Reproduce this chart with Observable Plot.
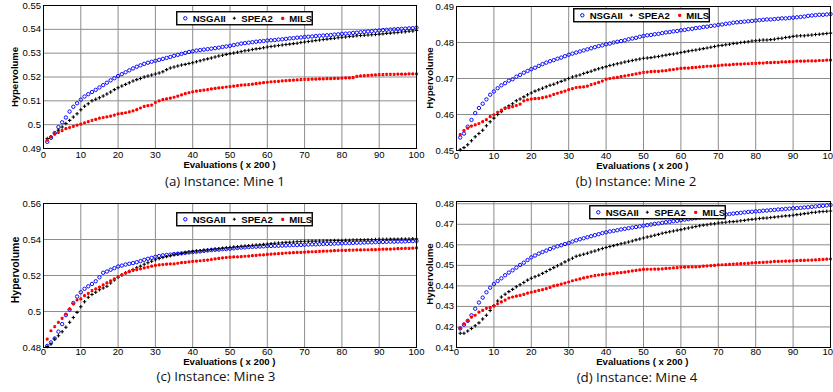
<!DOCTYPE html>
<html>
<head>
<meta charset="utf-8">
<script src="https://cdn.jsdelivr.net/npm/d3@7"></script>
<script src="https://cdn.jsdelivr.net/npm/@observablehq/plot@0.6"></script>
<style>
  html, body { margin: 0; padding: 0; background: #fff; }
  #page { position: relative; width: 833px; height: 392px; background: #fff; overflow: hidden; }
  .panel { position: absolute; overflow: hidden; }
  .lbl { position: absolute; white-space: nowrap; line-height: 1; }
</style>
</head>
<body>
<div id="page"></div>
<script>
// ---------------- DATA ----------------
const algorithms = ["NSGAII", "SPEA2", "MILS"];
const evaluations = [1,2,3,4,5,6,7,8,9,10,11,12,13,14,15,16,17,18,19,20,21,22,23,24,25,26,27,28,29,30,31,32,33,34,35,36,37,38,39,40,41,42,43,44,45,46,47,48,49,50,51,52,53,54,55,56,57,58,59,60,61,62,63,64,65,66,67,68,69,70,71,72,73,74,75,76,77,78,79,80,81,82,83,84,85,86,87,88,89,90,91,92,93,94,95,96,97,98,99,100];
const xTicks = [0, 10, 20, 30, 40, 50, 60, 70, 80, 90, 100];

// Mine 1
const mine1NSGAII = [
0.4928,0.4945,0.4965,0.4990,0.5010,0.5030,0.5055,0.5075,0.5090,0.5105,
0.5118,0.5128,0.5137,0.5146,0.5156,0.5166,0.5176,0.5186,0.5195,0.5204,
0.5212,0.5220,0.5228,0.5236,0.5243,0.5249,0.5255,0.5260,0.5264,0.5268,
0.5272,0.5276,0.5280,0.5284,0.5289,0.5293,0.5297,0.5301,0.5305,0.5308,
0.5311,0.5313,0.5315,0.5317,0.5319,0.5321,0.5323,0.5326,0.5328,0.5331,
0.5334,0.5337,0.5340,0.5342,0.5344,0.5346,0.5348,0.5350,0.5351,0.5353,
0.5354,0.5355,0.5357,0.5358,0.5360,0.5362,0.5363,0.5365,0.5366,0.5368,
0.5369,0.5370,0.5372,0.5373,0.5374,0.5375,0.5376,0.5378,0.5379,0.5381,
0.5382,0.5383,0.5385,0.5386,0.5388,0.5389,0.5391,0.5392,0.5394,0.5395,
0.5397,0.5398,0.5399,0.5400,0.5401,0.5402,0.5403,0.5404,0.5405,0.5407];
const mine1SPEA2 = [
0.4942,0.4949,0.4963,0.4977,0.4990,0.5005,0.5018,0.5032,0.5046,0.5063,
0.5077,0.5088,0.5100,0.5107,0.5113,0.5120,0.5129,0.5137,0.5147,0.5155,
0.5162,0.5169,0.5176,0.5183,0.5189,0.5194,0.5200,0.5204,0.5208,0.5213,
0.5217,0.5222,0.5231,0.5238,0.5242,0.5246,0.5250,0.5253,0.5257,0.5260,
0.5264,0.5268,0.5272,0.5276,0.5280,0.5284,0.5288,0.5291,0.5295,0.5298,
0.5301,0.5304,0.5307,0.5310,0.5312,0.5315,0.5318,0.5320,0.5323,0.5326,
0.5328,0.5330,0.5332,0.5334,0.5336,0.5338,0.5340,0.5342,0.5345,0.5347,
0.5349,0.5351,0.5353,0.5355,0.5357,0.5359,0.5361,0.5363,0.5365,0.5367,
0.5368,0.5370,0.5371,0.5373,0.5374,0.5375,0.5376,0.5377,0.5378,0.5380,
0.5381,0.5383,0.5384,0.5386,0.5387,0.5389,0.5390,0.5392,0.5393,0.5395];
const mine1MILS = [
0.4935,0.4950,0.4960,0.4968,0.4975,0.4983,0.4988,0.4993,0.4998,0.5002,
0.5008,0.5013,0.5018,0.5022,0.5027,0.5030,0.5033,0.5036,0.5040,0.5045,
0.5047,0.5050,0.5054,0.5058,0.5063,0.5070,0.5077,0.5080,0.5082,0.5093,
0.5100,0.5105,0.5108,0.5111,0.5115,0.5120,0.5125,0.5130,0.5134,0.5138,
0.5141,0.5143,0.5145,0.5147,0.5150,0.5152,0.5154,0.5156,0.5158,0.5160,
0.5162,0.5164,0.5166,0.5167,0.5168,0.5170,0.5172,0.5174,0.5176,0.5178,
0.5180,0.5181,0.5182,0.5184,0.5185,0.5186,0.5187,0.5188,0.5189,0.5190,
0.5190,0.5191,0.5191,0.5192,0.5192,0.5193,0.5193,0.5194,0.5194,0.5195,
0.5196,0.5196,0.5197,0.5203,0.5205,0.5206,0.5207,0.5208,0.5209,0.5210,
0.5210,0.5211,0.5211,0.5211,0.5212,0.5212,0.5212,0.5213,0.5213,0.5213];

// Mine 2
const mine2NSGAII = [
0.4536,0.4547,0.4566,0.4585,0.4604,0.4618,0.4630,0.4642,0.4655,0.4664,
0.4673,0.4681,0.4687,0.4694,0.4698,0.4705,0.4710,0.4716,0.4721,0.4726,
0.4730,0.4735,0.4740,0.4744,0.4748,0.4751,0.4755,0.4758,0.4762,0.4766,
0.4769,0.4772,0.4775,0.4778,0.4781,0.4784,0.4787,0.4790,0.4792,0.4795,
0.4797,0.4800,0.4802,0.4804,0.4806,0.4809,0.4811,0.4813,0.4816,0.4818,
0.4820,0.4821,0.4823,0.4824,0.4826,0.4828,0.4829,0.4831,0.4832,0.4834,
0.4835,0.4837,0.4838,0.4840,0.4841,0.4843,0.4844,0.4846,0.4847,0.4849,
0.4850,0.4852,0.4853,0.4855,0.4856,0.4857,0.4858,0.4859,0.4860,0.4861,
0.4862,0.4863,0.4864,0.4864,0.4865,0.4866,0.4867,0.4867,0.4868,0.4869,
0.4870,0.4871,0.4872,0.4874,0.4875,0.4876,0.4877,0.4877,0.4878,0.4879];
const mine2SPEA2 = [
0.4502,0.4508,0.4516,0.4527,0.4538,0.4547,0.4556,0.4569,0.4580,0.4590,
0.4600,0.4608,0.4618,0.4624,0.4630,0.4638,0.4643,0.4649,0.4655,0.4660,
0.4665,0.4669,0.4673,0.4677,0.4681,0.4684,0.4688,0.4692,0.4696,0.4700,
0.4704,0.4707,0.4710,0.4714,0.4717,0.4720,0.4724,0.4727,0.4730,0.4733,
0.4736,0.4738,0.4741,0.4743,0.4746,0.4748,0.4750,0.4752,0.4754,0.4756,
0.4757,0.4758,0.4760,0.4761,0.4763,0.4765,0.4767,0.4768,0.4770,0.4772,
0.4774,0.4776,0.4778,0.4779,0.4781,0.4783,0.4785,0.4787,0.4789,0.4791,
0.4792,0.4794,0.4795,0.4797,0.4798,0.4800,0.4801,0.4802,0.4804,0.4805,
0.4806,0.4807,0.4807,0.4808,0.4809,0.4811,0.4812,0.4814,0.4815,0.4817,
0.4818,0.4819,0.4819,0.4820,0.4821,0.4822,0.4823,0.4824,0.4825,0.4826];
const mine2MILS = [
0.4544,0.4555,0.4562,0.4568,0.4571,0.4575,0.4580,0.4586,0.4594,0.4599,
0.4606,0.4612,0.4617,0.4619,0.4622,0.4625,0.4629,0.4638,0.4641,0.4643,
0.4644,0.4645,0.4647,0.4649,0.4652,0.4656,0.4659,0.4662,0.4665,0.4669,
0.4672,0.4675,0.4676,0.4677,0.4679,0.4683,0.4686,0.4689,0.4693,0.4698,
0.4700,0.4702,0.4703,0.4705,0.4707,0.4709,0.4711,0.4713,0.4715,0.4717,
0.4718,0.4719,0.4720,0.4720,0.4721,0.4722,0.4724,0.4725,0.4727,0.4728,
0.4729,0.4729,0.4730,0.4731,0.4732,0.4733,0.4734,0.4734,0.4735,0.4736,
0.4737,0.4738,0.4738,0.4739,0.4740,0.4740,0.4741,0.4741,0.4742,0.4742,
0.4743,0.4743,0.4744,0.4744,0.4745,0.4745,0.4746,0.4746,0.4747,0.4747,
0.4748,0.4748,0.4748,0.4749,0.4749,0.4749,0.4750,0.4750,0.4751,0.4751];

// Mine 3
const mine3NSGAII = [
0.4809,0.4828,0.4850,0.4888,0.4930,0.4980,0.5010,0.5047,0.5083,0.5107,
0.5126,0.5140,0.5153,0.5168,0.5190,0.5215,0.5222,0.5232,0.5241,0.5250,
0.5255,0.5261,0.5265,0.5269,0.5274,0.5280,0.5287,0.5293,0.5298,0.5304,
0.5308,0.5312,0.5314,0.5316,0.5319,0.5321,0.5323,0.5326,0.5328,0.5330,
0.5332,0.5334,0.5337,0.5339,0.5341,0.5343,0.5344,0.5346,0.5347,0.5349,
0.5351,0.5353,0.5355,0.5356,0.5358,0.5359,0.5360,0.5361,0.5362,0.5364,
0.5364,0.5365,0.5365,0.5366,0.5367,0.5368,0.5369,0.5369,0.5370,0.5371,
0.5372,0.5373,0.5373,0.5374,0.5375,0.5376,0.5376,0.5377,0.5378,0.5379,
0.5380,0.5380,0.5381,0.5382,0.5382,0.5383,0.5384,0.5384,0.5385,0.5386,
0.5386,0.5387,0.5388,0.5388,0.5389,0.5389,0.5390,0.5391,0.5391,0.5392];
const mine3SPEA2 = [
0.4806,0.4819,0.4847,0.4865,0.4888,0.4912,0.4940,0.4967,0.4995,0.5026,
0.5054,0.5079,0.5094,0.5107,0.5121,0.5131,0.5140,0.5158,0.5175,0.5190,
0.5203,0.5215,0.5224,0.5233,0.5243,0.5252,0.5262,0.5271,0.5279,0.5287,
0.5294,0.5300,0.5305,0.5310,0.5315,0.5319,0.5323,0.5327,0.5331,0.5334,
0.5336,0.5338,0.5340,0.5342,0.5345,0.5347,0.5349,0.5352,0.5354,0.5356,
0.5358,0.5360,0.5362,0.5364,0.5366,0.5368,0.5370,0.5371,0.5373,0.5375,
0.5377,0.5379,0.5381,0.5382,0.5384,0.5385,0.5386,0.5387,0.5389,0.5390,
0.5390,0.5391,0.5391,0.5392,0.5392,0.5393,0.5393,0.5394,0.5394,0.5395,
0.5396,0.5396,0.5397,0.5397,0.5398,0.5398,0.5399,0.5399,0.5400,0.5401,
0.5401,0.5401,0.5402,0.5402,0.5402,0.5403,0.5403,0.5403,0.5404,0.5404];
const mine3MILS = [
0.4847,0.4893,0.4916,0.4940,0.4962,0.4986,0.5014,0.5042,0.5064,0.5070,
0.5088,0.5101,0.5116,0.5126,0.5135,0.5148,0.5159,0.5170,0.5181,0.5194,
0.5204,0.5213,0.5221,0.5228,0.5233,0.5237,0.5242,0.5247,0.5252,0.5256,
0.5259,0.5261,0.5263,0.5264,0.5265,0.5268,0.5271,0.5273,0.5276,0.5278,
0.5280,0.5282,0.5284,0.5286,0.5289,0.5292,0.5295,0.5298,0.5300,0.5302,
0.5303,0.5304,0.5305,0.5307,0.5308,0.5310,0.5312,0.5314,0.5315,0.5317,
0.5319,0.5320,0.5322,0.5323,0.5325,0.5326,0.5327,0.5328,0.5329,0.5330,
0.5331,0.5332,0.5333,0.5334,0.5335,0.5336,0.5337,0.5338,0.5339,0.5340,
0.5340,0.5341,0.5341,0.5342,0.5342,0.5343,0.5343,0.5344,0.5344,0.5345,
0.5346,0.5346,0.5347,0.5348,0.5349,0.5350,0.5351,0.5351,0.5352,0.5353];

// Mine 4
const mine4NSGAII = [
0.4193,0.4211,0.4230,0.4257,0.4289,0.4319,0.4343,0.4369,0.4391,0.4409,
0.4424,0.4437,0.4452,0.4465,0.4476,0.4489,0.4502,0.4513,0.4526,0.4539,
0.4548,0.4557,0.4565,0.4572,0.4580,0.4587,0.4593,0.4598,0.4604,0.4609,
0.4616,0.4622,0.4627,0.4632,0.4637,0.4642,0.4647,0.4652,0.4657,0.4661,
0.4665,0.4668,0.4671,0.4675,0.4678,0.4681,0.4684,0.4687,0.4690,0.4693,
0.4696,0.4699,0.4702,0.4704,0.4707,0.4710,0.4712,0.4715,0.4717,0.4720,
0.4723,0.4725,0.4728,0.4730,0.4733,0.4735,0.4737,0.4740,0.4742,0.4744,
0.4746,0.4748,0.4750,0.4752,0.4754,0.4756,0.4758,0.4760,0.4761,0.4763,
0.4764,0.4766,0.4767,0.4769,0.4770,0.4772,0.4773,0.4775,0.4776,0.4778,
0.4779,0.4780,0.4782,0.4783,0.4785,0.4787,0.4789,0.4790,0.4792,0.4794];
const mine4SPEA2 = [
0.4169,0.4169,0.4180,0.4193,0.4206,0.4220,0.4239,0.4257,0.4280,0.4304,
0.4326,0.4346,0.4359,0.4372,0.4383,0.4396,0.4406,0.4417,0.4428,0.4437,
0.4445,0.4452,0.4461,0.4470,0.4480,0.4489,0.4498,0.4507,0.4517,0.4526,
0.4535,0.4544,0.4549,0.4554,0.4559,0.4565,0.4570,0.4576,0.4582,0.4587,
0.4592,0.4596,0.4601,0.4605,0.4609,0.4614,0.4619,0.4624,0.4628,0.4633,
0.4638,0.4642,0.4647,0.4651,0.4656,0.4660,0.4664,0.4667,0.4671,0.4674,
0.4678,0.4682,0.4686,0.4689,0.4693,0.4696,0.4698,0.4701,0.4703,0.4706,
0.4708,0.4710,0.4712,0.4713,0.4715,0.4717,0.4719,0.4722,0.4724,0.4726,
0.4728,0.4730,0.4731,0.4733,0.4735,0.4737,0.4739,0.4741,0.4742,0.4744,
0.4747,0.4749,0.4752,0.4754,0.4757,0.4759,0.4761,0.4762,0.4764,0.4765];
const mine4MILS = [
0.4193,0.4215,0.4230,0.4248,0.4257,0.4272,0.4281,0.4291,0.4294,0.4302,
0.4313,0.4322,0.4331,0.4341,0.4346,0.4350,0.4354,0.4359,0.4365,0.4369,
0.4373,0.4378,0.4382,0.4387,0.4393,0.4400,0.4404,0.4409,0.4414,0.4419,
0.4425,0.4430,0.4434,0.4439,0.4443,0.4447,0.4450,0.4453,0.4455,0.4457,
0.4459,0.4461,0.4463,0.4465,0.4467,0.4470,0.4473,0.4476,0.4478,0.4480,
0.4481,0.4481,0.4482,0.4482,0.4483,0.4485,0.4486,0.4488,0.4489,0.4491,
0.4491,0.4492,0.4493,0.4493,0.4494,0.4496,0.4497,0.4499,0.4500,0.4502,
0.4503,0.4504,0.4505,0.4506,0.4507,0.4508,0.4509,0.4510,0.4512,0.4513,
0.4514,0.4515,0.4516,0.4517,0.4519,0.4519,0.4520,0.4521,0.4521,0.4522,
0.4523,0.4524,0.4524,0.4525,0.4526,0.4527,0.4528,0.4529,0.4530,0.4531];

const yTicks1 = [0.49, 0.50, 0.51, 0.52, 0.53, 0.54, 0.55];
const yTicks2 = [0.45, 0.46, 0.47, 0.48, 0.49];
const yTicks3 = [0.48, 0.50, 0.52, 0.54, 0.56];
const yTicks4 = [0.41, 0.42, 0.43, 0.44, 0.45, 0.46, 0.47, 0.48];
const captions = ["(a) Instance: Mine 1", "(b) Instance: Mine 2", "(c) Instance: Mine 3", "(d) Instance: Mine 4"];
const xLabel = "Evaluations ( x 200 )";
const yLabel = "Hypervolume";

// ---------------- LAYOUT ----------------
const panels = [
  {series: [mine1NSGAII, mine1SPEA2, mine1MILS], yDomain: [0.49, 0.55], yTicks: yTicks1, caption: captions[0],
   left: 0, top: 0, w: 426, h: 196, mL: 43, mR: 10, mT: 5, mB: 24, tp: 3,
   ylab: [15, 77, 9.5], xlab: [229.5, 164.5], cap: [225, 182], leg: [176, 10.5]},
  {series: [mine2NSGAII, mine2SPEA2, mine2MILS], yDomain: [0.45, 0.49], yTicks: yTicks2, caption: captions[1],
   left: 426, top: 0, w: 407, h: 196, mL: 30, mR: 3, mT: 6, mB: 22, tp: 1.5,
   ylab: [3.8, 77.5, 9.7], xlab: [216.3, 165.5], cap: [210, 182], leg: [147, 8.3]},
  {series: [mine3NSGAII, mine3SPEA2, mine3MILS], yDomain: [0.48, 0.56], yTicks: yTicks3, caption: captions[2],
   left: 0, top: 196, w: 426, h: 196, mL: 43, mR: 10, mT: 7, mB: 21, tp: 0.5,
   ylab: [15, 74, 10.5], xlab: [229.3, 165.5], cap: [216, 180.7], leg: [176, 16.3]},
  {series: [mine4NSGAII, mine4SPEA2, mine4MILS], yDomain: [0.41, 0.4811], yTicks: yTicks4, caption: captions[3],
   left: 426, top: 196, w: 407, h: 196, mL: 30, mR: 3, mT: 5, mB: 21, tp: 1,
   ylab: [3.8, 78, 9.7], xlab: [216.3, 166], cap: [211, 181.5], leg: [163, 9]}
];

const tickFmt = d => String(+d.toFixed(2));
const page = document.getElementById("page");
const SANS = "'Liberation Sans', Arial, Helvetica, sans-serif";

function addLabel(parent, text, cx, cy, css, rotate) {
  const el = document.createElement("div");
  el.className = "lbl";
  el.textContent = text;
  el.style.left = cx + "px";
  el.style.top = cy + "px";
  el.style.transform = "translate(-50%,-50%)" + (rotate ? " rotate(-90deg)" : "");
  Object.assign(el.style, css);
  parent.appendChild(el);
}

function legendSVG(x, y) {
  const ns = "http://www.w3.org/2000/svg";
  const svg = document.createElementNS(ns, "svg");
  svg.setAttribute("width", 137); svg.setAttribute("height", 15);
  svg.style.position = "absolute"; svg.style.left = x + "px"; svg.style.top = y + "px";
  svg.innerHTML = `
    <rect x="0.75" y="0.75" width="135.5" height="13" fill="#fff" stroke="#000" stroke-width="1.4"/>
    <circle cx="9.3" cy="7.3" r="1.7" fill="none" stroke="#0000ff" stroke-width="1"/>
    <path d="M56.8,7.3H59.8M58.3,5.8V8.8" stroke="#000" stroke-width="1.1"/>
    <path d="M105.1,7.3H108.3M106.7,5.7V8.9M105.5,6.1L107.9,8.5M107.9,6.1L105.5,8.5" stroke="#ff0000" stroke-width="1.1"/>
    <g font-family="Liberation Sans, Arial, sans-serif" font-weight="bold" font-size="9.6" fill="#000">
      <text x="16.7" y="10.8">${algorithms[0]}</text>
      <text x="65.3" y="10.8">${algorithms[1]}</text>
      <text x="113.3" y="10.8">${algorithms[2]}</text>
    </g>`;
  return svg;
}

panels.forEach(p => {
  const wrap = document.createElement("div");
  wrap.className = "panel";
  Object.assign(wrap.style, {left: p.left + "px", top: p.top + "px", width: p.w + "px", height: p.h + "px"});
  page.appendChild(wrap);

  const mk = arr => arr.map((v, i) => ({evals: evaluations[i], hv: v}));
  const [sN, sS, sM] = p.series;
  const chart = Plot.plot({
    width: p.w, height: 172,
    marginLeft: p.mL, marginRight: p.mR, marginTop: p.mT, marginBottom: p.mB,
    style: {background: "transparent", fontFamily: SANS, fontSize: "9.5px", color: "#000", overflow: "hidden"},
    x: {domain: [0, 100]},
    y: {domain: p.yDomain},
    marks: [
      Plot.gridX(xTicks, {stroke: "#8c8c8c", strokeOpacity: 1, strokeWidth: 1}),
      Plot.gridY(p.yTicks, {stroke: "#8c8c8c", strokeOpacity: 1, strokeWidth: 1}),
      Plot.axisX(xTicks, {tickSize: 0, tickPadding: p.tp, label: null, tickFormat: d => String(d)}),
      Plot.axisY(p.yTicks, {tickSize: 0, tickPadding: 2.5, label: null, tickFormat: tickFmt}),
      Plot.dot(mk(sN), {x: "evals", y: "hv", r: 1.7, stroke: "#0000ff", strokeWidth: 0.95, fill: "none"}),
      Plot.dot(mk(sS), {x: "evals", y: "hv", symbol: "plus", r: 1.2, stroke: "#000", strokeWidth: 1.05}),
      Plot.dot(mk(sM), {x: "evals", y: "hv", symbol: "asterisk", r: 1.5, stroke: "#ff0000", strokeWidth: 1.25}),
      Plot.frame({stroke: "#000", strokeWidth: 1})
    ]
  });
  chart.style.position = "absolute"; chart.style.left = "0px"; chart.style.top = "0px";
  wrap.appendChild(chart);

  addLabel(wrap, yLabel, p.ylab[0], p.ylab[1], {fontFamily: SANS, fontWeight: "bold", fontSize: p.ylab[2] + "px"}, true);
  addLabel(wrap, xLabel, p.xlab[0], p.xlab[1], {fontFamily: SANS, fontWeight: "bold", fontSize: "9.6px"}, false);
  addLabel(wrap, p.caption, p.cap[0], p.cap[1], {fontFamily: "'Open Sans', 'Noto Sans', sans-serif", fontSize: "13.3px", color: "#111"}, false);
  wrap.appendChild(legendSVG(p.leg[0], p.leg[1]));
});
</script>
</body>
</html>
